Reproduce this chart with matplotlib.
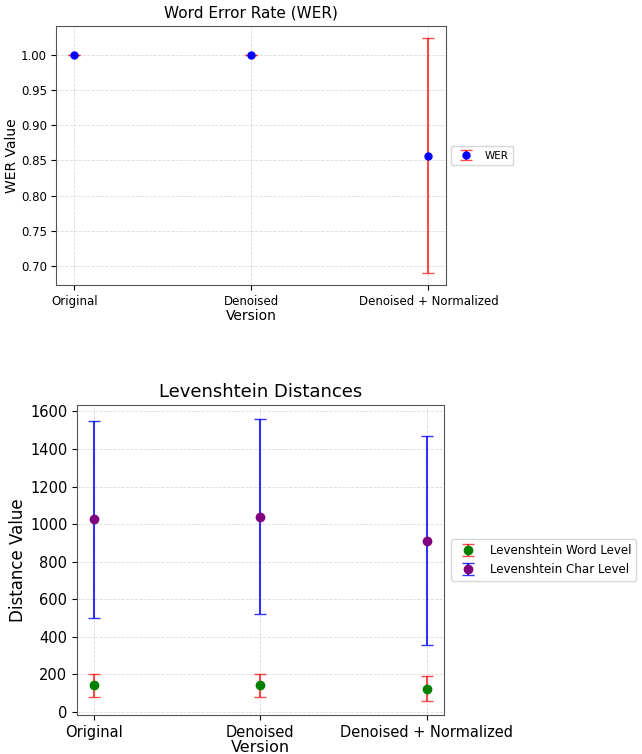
import matplotlib
matplotlib.use("Agg")
import matplotlib.pyplot as plt

versions = ["Original", "Denoised", "Denoised + Normalized"]

wer_mean = [1.0, 1.0, 0.857]
wer_err = [0.0, 0.0, 0.167]

lev_word_mean = [140, 140, 123]
lev_word_err = [63, 63, 65]
lev_char_mean = [1025, 1040, 912]
lev_char_err = [525, 520, 555]


def soften(eb, alpha=0.7):
    _, caps, bars = eb
    for c in caps:
        c.set_alpha(alpha)
    for b in bars:
        b.set_alpha(alpha)


fig = plt.figure(figsize=(6.42, 7.54), dpi=100)

# --- Top: WER ---
ax1 = fig.add_axes([0.088, 0.622, 0.607, 0.3435])
x = list(range(len(versions)))
eb = ax1.errorbar(x, wer_mean, yerr=wer_err, fmt='o', color='blue', ecolor='red',
                  elinewidth=1.5, capsize=4, markersize=5, label='WER')
soften(eb)
ax1.set_xticks(x)
ax1.set_xticklabels(versions, fontsize=8.5)
ax1.tick_params(axis='y', labelsize=8.5)
ax1.set_title("Word Error Rate (WER)", fontsize=11)
ax1.set_xlabel("Version", fontsize=10, labelpad=1)
ax1.set_ylabel("WER Value", fontsize=10, labelpad=1)
ax1.grid(True, linestyle='--', color='#cccccc', linewidth=0.6, alpha=0.7)
ax1.legend(loc='center left', bbox_to_anchor=(1.0, 0.5), fontsize=7.5)
for s in ax1.spines.values():
    s.set_color('#555555')

# --- Bottom: Levenshtein ---
ax2 = fig.add_axes([0.12, 0.052, 0.571, 0.411])
eb = ax2.errorbar(x, lev_word_mean, yerr=lev_word_err, fmt='o', color='green',
                  ecolor='red', elinewidth=1.5, capsize=4, markersize=6,
                  label='Levenshtein Word Level')
soften(eb)
eb = ax2.errorbar(x, lev_char_mean, yerr=lev_char_err, fmt='o', color='purple',
                  ecolor='blue', elinewidth=1.5, capsize=4, markersize=6,
                  label='Levenshtein Char Level')
soften(eb, 0.8)
ax2.set_xticks(x)
ax2.set_xticklabels(versions, fontsize=10.5)
ax2.tick_params(axis='y', labelsize=10.5)
ax2.set_title("Levenshtein Distances", fontsize=13)
ax2.set_xlabel("Version", fontsize=11.5, labelpad=0)
ax2.set_ylabel("Distance Value", fontsize=12, labelpad=2)
ax2.grid(True, linestyle='--', color='#cccccc', linewidth=0.6, alpha=0.7)
ax2.legend(loc='center left', bbox_to_anchor=(1.005, 0.5), fontsize=8.6)
for s in ax2.spines.values():
    s.set_color('#555555')

fig.savefig("out.png", dpi=100)
